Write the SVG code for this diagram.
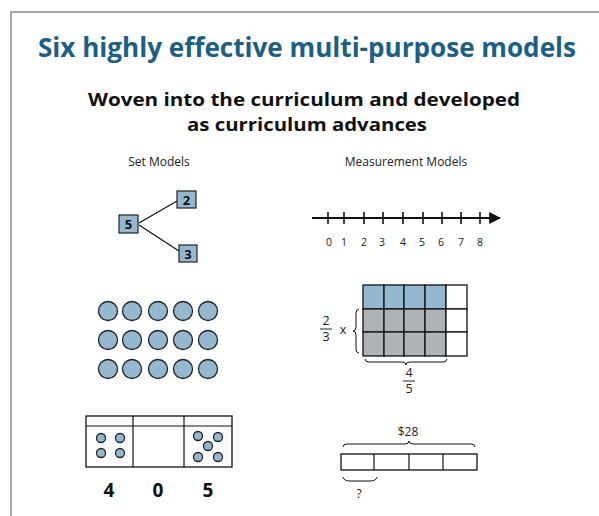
<svg xmlns="http://www.w3.org/2000/svg" width="599" height="516" viewBox="0 0 599 516">
<defs>
<style>
.frame{fill:none;stroke:#8a8a8a;stroke-width:1.5}
.title{font-family:"Open Sans","Noto Sans",sans-serif;font-weight:bold;font-size:26px;fill:#1b5f86}
.sub{font-family:"Open Sans","Noto Sans",sans-serif;font-weight:bold;font-size:18px;fill:#111}
.lbl{font-family:"Open Sans","Noto Sans",sans-serif;font-size:12px;fill:#222}
.sm{font-family:"Open Sans","Noto Sans",sans-serif;font-size:10.5px;fill:#222}
.box{fill:#94b8cf;stroke:#222;stroke-width:1.2}
.bnum{font-family:"Open Sans","Noto Sans",sans-serif;font-weight:bold;font-size:13px;fill:#111}
.ln{fill:none;stroke:#111;stroke-width:1.2}
.dot{fill:#94b8cf;stroke:#222;stroke-width:1.3}
.blue{fill:#94b8cf;stroke:#111;stroke-width:1.3}
.gray{fill:#b0b3b6;stroke:#111;stroke-width:1.3}
.white{fill:#fff;stroke:#111;stroke-width:1.3}
.big{font-family:"Open Sans","Noto Sans",sans-serif;font-weight:bold;font-size:19px;fill:#111}
.frac{font-family:"Open Sans","Noto Sans",sans-serif;font-size:12.5px;fill:#222}
</style>
<marker id="arr" viewBox="0 0 10 10" refX="9" refY="5" markerWidth="6" markerHeight="6" orient="auto"><path d="M0,0 L10,5 L0,10 z" fill="#111"/></marker>
</defs>
<rect width="599" height="516" fill="#fff"/>
<path class="frame" d="M11,516 V12 H599"/>
<text class="title" x="307" y="57" text-anchor="middle" textLength="538" lengthAdjust="spacingAndGlyphs">Six highly effective multi-purpose models</text>
<text class="sub" x="304" y="106" text-anchor="middle" textLength="432" lengthAdjust="spacingAndGlyphs">Woven into the curriculum and developed</text>
<text class="sub" x="307" y="131" text-anchor="middle" textLength="240" lengthAdjust="spacingAndGlyphs">as curriculum advances</text>
<text class="lbl" x="159" y="166" text-anchor="middle">Set Models</text>
<text class="lbl" x="406" y="166" text-anchor="middle">Measurement Models</text>

<g id="number-bond">
<g class="connectors">
<line class="ln" x1="139" y1="223" x2="177" y2="201"/>
<line class="ln" x1="139" y1="225" x2="179" y2="251"/>
</g>
<g id="bond-5"><rect class="box" x="119" y="215" width="19" height="18"/><text class="bnum" x="128.5" y="229" text-anchor="middle">5</text></g>
<g id="bond-2"><rect class="box" x="177" y="191" width="19" height="17"/><text class="bnum" x="186.5" y="204.5" text-anchor="middle">2</text></g>
<g id="bond-3"><rect class="box" x="179" y="245" width="18" height="17"/><text class="bnum" x="188" y="258.5" text-anchor="middle">3</text></g>
</g>

<g id="number-line">
<line class="ln" x1="312" y1="218" x2="500" y2="218" marker-end="url(#arr)" style="stroke-width:2"/>
<g class="ln" style="stroke-width:1.6">
<line x1="328" y1="212" x2="328" y2="224"/><line x1="344" y1="212" x2="344" y2="224"/><line x1="364" y1="212" x2="364" y2="224"/>
<line x1="383" y1="212" x2="383" y2="224"/><line x1="403" y1="212" x2="403" y2="224"/><line x1="423" y1="212" x2="423" y2="224"/>
<line x1="442" y1="212" x2="442" y2="224"/><line x1="461" y1="212" x2="461" y2="224"/><line x1="480" y1="212" x2="480" y2="224"/>
</g>
<g class="sm" text-anchor="middle">
<text x="329" y="246">0</text><text x="344" y="246">1</text><text x="364" y="246">2</text><text x="382" y="246">3</text><text x="403" y="246">4</text><text x="422" y="246">5</text><text x="441" y="246">6</text><text x="461" y="246">7</text><text x="480" y="246">8</text>
</g>
</g>

<g id="array">
<circle class="dot" cx="108" cy="311" r="9.5"/><circle class="dot" cx="132" cy="311" r="9.5"/><circle class="dot" cx="158" cy="311" r="9.5"/><circle class="dot" cx="183" cy="311" r="9.5"/><circle class="dot" cx="208" cy="311" r="9.5"/>
<circle class="dot" cx="108" cy="340" r="9.5"/><circle class="dot" cx="132" cy="340" r="9.5"/><circle class="dot" cx="158" cy="340" r="9.5"/><circle class="dot" cx="183" cy="340" r="9.5"/><circle class="dot" cx="208" cy="340" r="9.5"/>
<circle class="dot" cx="108" cy="369" r="9.5"/><circle class="dot" cx="132" cy="369" r="9.5"/><circle class="dot" cx="158" cy="369" r="9.5"/><circle class="dot" cx="183" cy="369" r="9.5"/><circle class="dot" cx="208" cy="369" r="9.5"/>
</g>

<g id="area-model">
<rect class="blue" x="363" y="285" width="21" height="24"/><rect class="blue" x="384" y="285" width="20" height="24"/><rect class="blue" x="404" y="285" width="21" height="24"/><rect class="blue" x="425" y="285" width="21" height="24"/><rect class="white" x="446" y="285" width="21" height="24"/>
<rect class="gray" x="363" y="309" width="21" height="23"/><rect class="gray" x="384" y="309" width="20" height="23"/><rect class="gray" x="404" y="309" width="21" height="23"/><rect class="gray" x="425" y="309" width="21" height="23"/><rect class="white" x="446" y="309" width="21" height="23"/>
<rect class="gray" x="363" y="332" width="21" height="24"/><rect class="gray" x="384" y="332" width="20" height="24"/><rect class="gray" x="404" y="332" width="21" height="24"/><rect class="gray" x="425" y="332" width="21" height="24"/><rect class="white" x="446" y="332" width="21" height="24"/>
<path class="ln" style="stroke-width:1" d="M359,309 Q356,309 356,313 V327 Q356,331 353,331 Q356,331 356,335 V349 Q356,353 359,353"/>
<path class="ln" style="stroke-width:1" d="M365,359 Q365,362 369,362 H402 Q406,362 406,365 Q406,362 410,362 H443 Q447,362 447,359"/>
<text class="frac" x="326" y="325" text-anchor="middle">2</text>
<line x1="320" y1="329" x2="332" y2="329" stroke="#222" stroke-width="1"/>
<text class="frac" x="326" y="341" text-anchor="middle">3</text>
<text class="frac" x="343" y="334" text-anchor="middle">x</text>
<text class="frac" x="409" y="377" text-anchor="middle">4</text>
<line x1="403" y1="381" x2="415" y2="381" stroke="#222" stroke-width="1"/>
<text class="frac" x="409" y="393" text-anchor="middle">5</text>
</g>

<g id="place-value">
<rect class="white" x="86" y="416" width="146" height="51"/>
<line class="ln" x1="86" y1="426" x2="232" y2="426"/>
<line class="ln" x1="133" y1="416" x2="133" y2="467"/>
<line class="ln" x1="184" y1="416" x2="184" y2="467"/>
<circle class="dot" cx="101" cy="438" r="4.5"/><circle class="dot" cx="120" cy="438" r="4.5"/><circle class="dot" cx="101" cy="453" r="4.5"/><circle class="dot" cx="120" cy="453" r="4.5"/>
<circle class="dot" cx="198" cy="436" r="4.5"/><circle class="dot" cx="218" cy="437" r="4.5"/><circle class="dot" cx="208" cy="446" r="4.5"/><circle class="dot" cx="198" cy="457" r="4.5"/><circle class="dot" cx="218" cy="457" r="4.5"/>
<text class="big" x="109" y="497" text-anchor="middle">4</text>
<text class="big" x="158" y="497" text-anchor="middle">0</text>
<text class="big" x="208" y="497" text-anchor="middle">5</text>
</g>

<g id="tape-diagram">
<text class="lbl" x="408" y="436" text-anchor="middle">$28</text>
<path class="ln" style="stroke-width:1" d="M343,447 Q343,444 347,444 H405 Q409,444 409,441 Q409,444 413,444 H471 Q475,444 475,447"/>
<rect class="white" x="341" y="454" width="136" height="16"/>
<line class="ln" x1="374" y1="454" x2="374" y2="470"/>
<line class="ln" x1="409" y1="454" x2="409" y2="470"/>
<line class="ln" x1="443" y1="454" x2="443" y2="470"/>
<path class="ln" style="stroke-width:1" d="M343,477 Q344,481 350,481 H370 Q376,481 377,477"/>
<text class="lbl" x="359" y="498" text-anchor="middle">?</text>
</g>
</svg>
